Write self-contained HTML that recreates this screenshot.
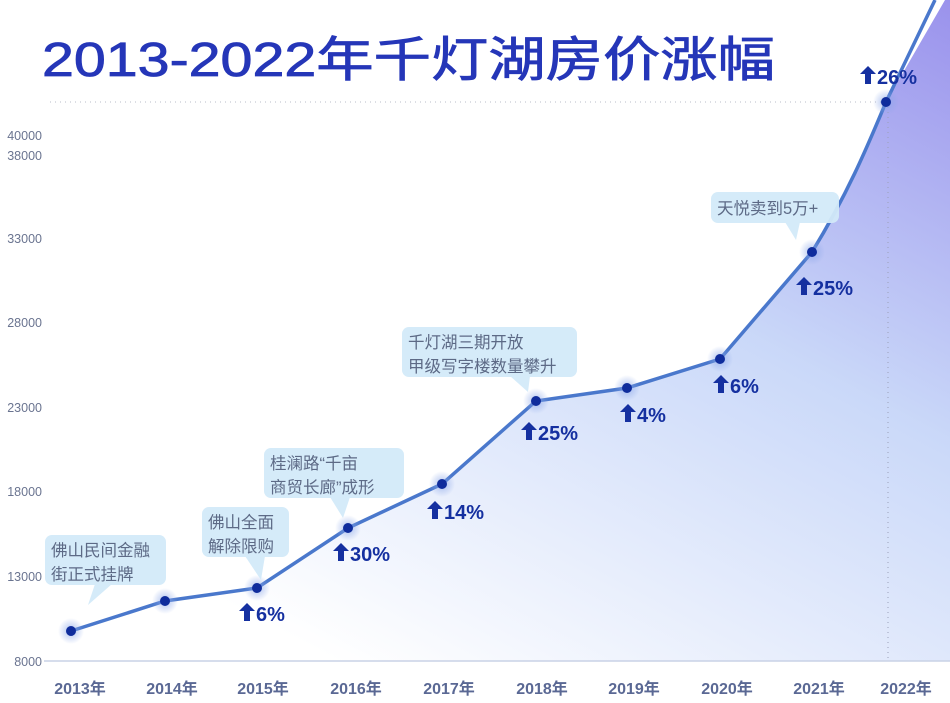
<!DOCTYPE html>
<html><head><meta charset="utf-8"><style>
html,body{margin:0;padding:0;background:#fff}
svg{display:block}
text{font-family:"Liberation Sans","Noto Sans CJK SC",sans-serif}
</style></head><body>
<svg width="950" height="703" viewBox="0 0 950 703">
<defs>
<linearGradient id="g" x1="1" y1="0" x2="0.3" y2="1">
<stop offset="0" stop-color="#8f86ea"/>
<stop offset="0.45" stop-color="#c4d4f8"/>
<stop offset="1" stop-color="#ffffff"/>
</linearGradient>
<radialGradient id="halo"><stop offset="0" stop-color="#8aa6e8" stop-opacity="0.7"/><stop offset="1" stop-color="#8aa6e8" stop-opacity="0"/></radialGradient>
</defs>
<text x="42" y="76" font-size="48" fill="#2536b8" stroke="#2536b8" stroke-width="0.8" textLength="733" lengthAdjust="spacingAndGlyphs">2013-2022年千灯湖房价涨幅</text>
<path d="M71,631 L165,601 L257,588 L348,528 L442,484 L536,401 L627,388 L720,359 L812,252 C850,190 870,140 886,102 L945,0 L950,0 L950,661 L71,661 Z" fill="url(#g)" opacity="0.9"/>
<line x1="44" y1="661" x2="950" y2="661" stroke="#c9d2e6" stroke-width="1.5"/>
<line x1="50" y1="102" x2="886" y2="102" stroke="#b8bcc8" stroke-width="1" stroke-dasharray="1,4"/>
<line x1="888" y1="102" x2="888" y2="661" stroke="#9aa0b8" stroke-width="1" stroke-dasharray="1,4"/>
<g font-size="12.5" fill="#6a7490" text-anchor="end">
<text x="42" y="666">8000</text><text x="42" y="581">13000</text><text x="42" y="496">18000</text><text x="42" y="412">23000</text><text x="42" y="327">28000</text><text x="42" y="243">33000</text><text x="42" y="160">38000</text><text x="42" y="140">40000</text>
</g>
<g font-size="16" font-weight="bold" fill="#5a6894" text-anchor="middle">
<text x="80" y="694">2013年</text><text x="172" y="694">2014年</text><text x="263" y="694">2015年</text><text x="356" y="694">2016年</text><text x="449" y="694">2017年</text><text x="542" y="694">2018年</text><text x="634" y="694">2019年</text><text x="727" y="694">2020年</text><text x="819" y="694">2021年</text><text x="906" y="694">2022年</text>
</g>
<path d="M71,631 L165,601 L257,588 L348,528 L442,484 L536,401 L627,388 L720,359 L812,252 C850,190 870,140 886,102 L935,0" fill="none" stroke="#4a78cc" stroke-width="3.5"/>
<g fill="url(#halo)">
<circle cx="71" cy="631" r="13"/><circle cx="165" cy="601" r="13"/><circle cx="257" cy="588" r="13"/><circle cx="348" cy="528" r="13"/><circle cx="442" cy="484" r="13"/><circle cx="536" cy="401" r="13"/><circle cx="627" cy="388" r="13"/><circle cx="720" cy="359" r="13"/><circle cx="812" cy="252" r="13"/><circle cx="886" cy="102" r="13"/>
</g>
<g fill="#0f2c9c">
<circle cx="71" cy="631" r="5"/><circle cx="165" cy="601" r="5"/><circle cx="257" cy="588" r="5"/><circle cx="348" cy="528" r="5"/><circle cx="442" cy="484" r="5"/><circle cx="536" cy="401" r="5"/><circle cx="627" cy="388" r="5"/><circle cx="720" cy="359" r="5"/><circle cx="812" cy="252" r="5"/><circle cx="886" cy="102" r="5"/>
</g>
<g fill="#d3eaf9" opacity="0.95">
<rect x="45" y="535" width="121" height="50" rx="7"/><path d="M95,584 L88,605 L112,584Z"/>
<rect x="202" y="507" width="87" height="50" rx="7"/><path d="M245,556 L261,580 L265,556Z"/>
<rect x="264" y="448" width="140" height="50" rx="7"/><path d="M330,497 L343,518 L350,497Z"/>
<rect x="402" y="327" width="175" height="50" rx="7"/><path d="M510,376 L528,392 L530,376Z"/>
<rect x="711" y="192" width="128" height="31" rx="7"/><path d="M785,222 L796,240 L800,222Z"/>
</g>
<g font-size="16.5" fill="#5d6a86">
<text x="51" y="556">佛山民间金融</text><text x="51" y="580">街正式挂牌</text>
<text x="208" y="528">佛山全面</text><text x="208" y="552">解除限购</text>
<text x="270" y="469">桂澜路“千亩</text><text x="270" y="493">商贸长廊”成形</text>
<text x="408" y="348">千灯湖三期开放</text><text x="408" y="372">甲级写字楼数量攀升</text>
<text x="717" y="214">天悦卖到5万+</text>
</g>
<g fill="#1530a0" font-size="20" font-weight="bold">
<g transform="translate(239,603)"><path d="M8,0 L16,8 L11,8 L11,18 L5,18 L5,8 L0,8Z"/><text x="17" y="18">6%</text></g>
<g transform="translate(333,543)"><path d="M8,0 L16,8 L11,8 L11,18 L5,18 L5,8 L0,8Z"/><text x="17" y="18">30%</text></g>
<g transform="translate(427,501)"><path d="M8,0 L16,8 L11,8 L11,18 L5,18 L5,8 L0,8Z"/><text x="17" y="18">14%</text></g>
<g transform="translate(521,422)"><path d="M8,0 L16,8 L11,8 L11,18 L5,18 L5,8 L0,8Z"/><text x="17" y="18">25%</text></g>
<g transform="translate(620,404)"><path d="M8,0 L16,8 L11,8 L11,18 L5,18 L5,8 L0,8Z"/><text x="17" y="18">4%</text></g>
<g transform="translate(713,375)"><path d="M8,0 L16,8 L11,8 L11,18 L5,18 L5,8 L0,8Z"/><text x="17" y="18">6%</text></g>
<g transform="translate(796,277)"><path d="M8,0 L16,8 L11,8 L11,18 L5,18 L5,8 L0,8Z"/><text x="17" y="18">25%</text></g>
<g transform="translate(860,66)"><path d="M8,0 L16,8 L11,8 L11,18 L5,18 L5,8 L0,8Z"/><text x="17" y="18">26%</text></g>
</g>
</svg>
</body></html>
